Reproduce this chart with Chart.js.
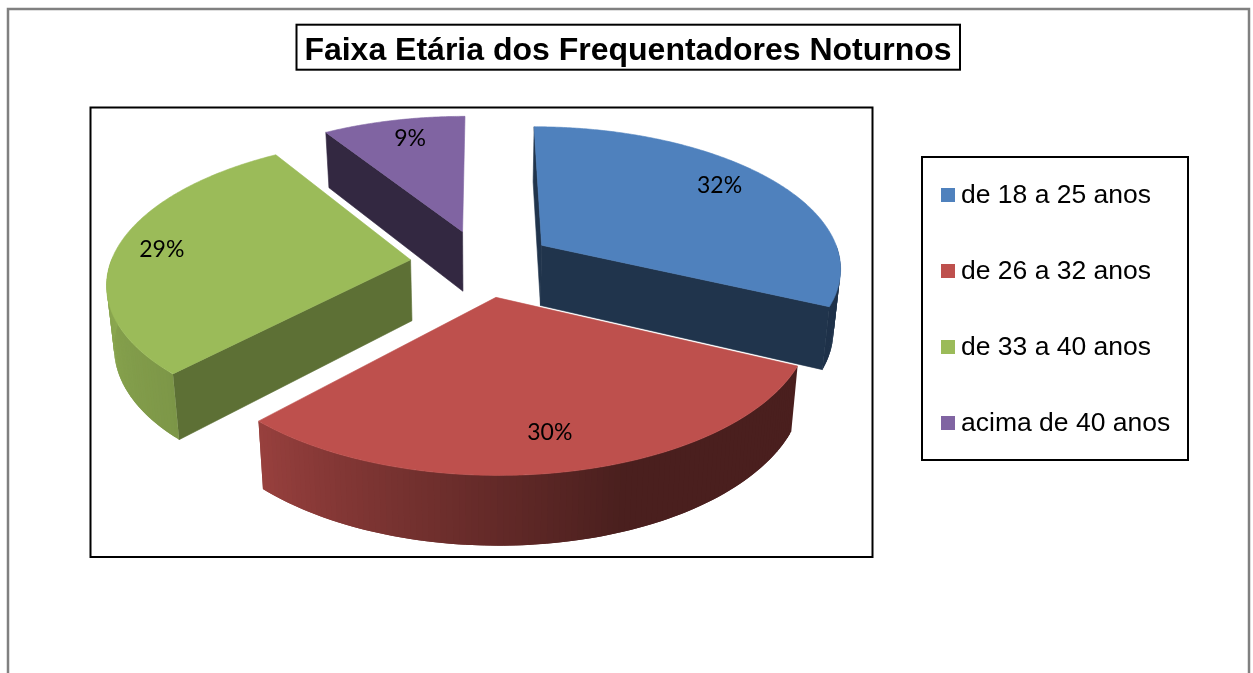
<!DOCTYPE html>
<html>
<head>
<meta charset="utf-8">
<title>Faixa Etária</title>
<script src="https://cdn.jsdelivr.net/npm/chart.js@4"></script>
<style>
html, body { margin: 0; padding: 0; background: #fff; overflow: hidden; }
#wrap { position: relative; width: 1253px; height: 673px; }
#legend {
    position: absolute; left: 921px; top: 156px; width: 264px; height: 301px;
    border: 2px solid #000; list-style: none; margin: 0; padding: 0;
    font: 26.5px "Liberation Sans", Arial, sans-serif; color: #000;
}
#legend li { position: relative; height: 76px; line-height: 74px; padding-left: 38px; white-space: nowrap; }
#legend li:first-child { margin-top: -1px; }
#legend i { position: absolute; left: 18px; top: 31px; width: 14px; height: 14px; }
</style>
</head>
<body>
<div id="wrap">
    <canvas id="charts" width="1253" height="673"></canvas>
    <ul id="legend"></ul>
</div>
<script>
var titulo = 'Faixa Etária dos Frequentadores Noturnos';
var categorias = ['de 18 a 25 anos', 'de 26 a 32 anos', 'de 33 a 40 anos', 'acima de 40 anos'];
var valores = [32, 30, 29, 9];
var cores = ['#4F81BD', '#BE504D', '#9BBB59', '#8064A2'];

// sombra das faces retas de cada fatia
var sombraParede = [0.4, 0.4, 0.6, 0.4];
// ajuste fino dos rotulos em px
var ajusteRotulo = [[-6, -5], [-1, 0], [-14, 0], [4, -2]];

// camera da pizza 3D (medida no desenho)
var CX = 482, CY = 263, RAIO = 300, EXPLODE = 72, ACHATA = 0.469, DIST = 2044, ALTURA = 61, FUNDO = 0.98;

function projeta(px, py, z) {
    var w = 1 / (1 - py / DIST);
    var f = z ? FUNDO : 1;
    return {
        x: CX + px * w * f,
        y: CY + ACHATA * py * w * f + z * ALTURA * w
    };
}

function sombra(hex, k) {
    var n = parseInt(hex.slice(1), 16);
    return 'rgb(' + Math.round((n >> 16) * k) + ',' + Math.round(((n >> 8) & 255) * k) + ',' + Math.round((n & 255) * k) + ')';
}

// luz da lateral curva, conforme o angulo da borda
function luzCurva(graus) {
    if (graus < 70) return 0.39;
    if (graus < 135) return 0.39 + (graus - 70) * (0.81 - 0.39) / 65;
    return Math.min(0.9, 0.81 + (graus - 135) * 0.002);
}

function poligono(ctx, pts, cor, contorno) {
    ctx.beginPath();
    pts.forEach(function(p, i) {
        if (i == 0) ctx.moveTo(p.x, p.y); else ctx.lineTo(p.x, p.y);
    });
    ctx.closePath();
    ctx.fillStyle = cor;
    ctx.fill();
    if (contorno) {
        ctx.strokeStyle = cor;
        ctx.lineWidth = 0.6;
        ctx.stroke();
    }
}

function area(pts) {
    var s = 0;
    for (var i = 0; i < pts.length; i++) {
        var a = pts[i], b = pts[(i + 1) % pts.length];
        s += a.x * b.y - b.x * a.y;
    }
    return s;
}

function fatia(ctx, arc, i) {
    var meio = (arc.startAngle + arc.endAngle) / 2;
    var ox = Math.cos(meio) * EXPLODE, oy = Math.sin(meio) * EXPLODE;
    var cor = arc.options.backgroundColor;

    function borda(a, z) {
        return projeta(ox + Math.cos(a) * RAIO, oy + Math.sin(a) * RAIO, z);
    }
    function centro(z) {
        return projeta(ox, oy, z);
    }

    // faces retas, so as que estao viradas para a camera (e nao sao fio de cabelo)
    [[arc.startAngle, -1], [arc.endAngle, 1]].forEach(function(f) {
        var q = [centro(0), borda(f[0], 0), borda(f[0], 1), centro(1)];
        if (area(q) * f[1] > 400) poligono(ctx, q, sombra(cor, sombraParede[i]), true);
    });

    // lateral curva em faixas de um grau, cada uma cobrindo a emenda da anterior
    var passo = Math.PI / 180;
    for (var a = arc.startAngle; a < arc.endAngle; a += passo) {
        var b = Math.min(a + passo * 2, arc.endAngle);
        var graus = ((a + passo / 2) * 180 / Math.PI + 360) % 360;
        if (graus > 180) continue;
        poligono(ctx, [borda(a, 0), borda(b, 0), borda(b, 1), borda(a, 1)], sombra(cor, luzCurva(graus)), false);
    }

    // tampa
    var topo = [centro(0)];
    for (var t = arc.startAngle; t < arc.endAngle; t += passo / 2) topo.push(borda(t, 0));
    topo.push(borda(arc.endAngle, 0));
    poligono(ctx, topo, cor, true);
}

var pizza3d = {
    id: 'pizza3d',
    beforeDraw: function(chart) {
        var ctx = chart.ctx;
        ctx.save();
        ctx.strokeStyle = '#808080';
        ctx.lineWidth = 2.5;
        ctx.strokeRect(8, 9, 1241, 720);
        ctx.strokeStyle = '#000';
        ctx.lineWidth = 2;
        ctx.strokeRect(90.5, 107.5, 782, 449.5);
        ctx.strokeRect(296.5, 24.7, 663.5, 45);
        ctx.restore();
    },
    beforeDatasetsDraw: function(chart) {
        var ctx = chart.ctx;
        var arcos = chart.getDatasetMeta(0).data;
        ctx.save();
        // de tras para a frente
        var ordem = arcos.map(function(a, i) { return i; }).sort(function(p, q) {
            return Math.sin((arcos[p].startAngle + arcos[p].endAngle) / 2) - Math.sin((arcos[q].startAngle + arcos[q].endAngle) / 2);
        });
        ordem.forEach(function(i) { fatia(ctx, arcos[i], i); });

        ctx.fillStyle = '#000';
        ctx.font = '23px Lato';
        ctx.textAlign = 'center';
        ctx.textBaseline = 'middle';
        arcos.forEach(function(arc, i) {
            var meio = (arc.startAngle + arc.endAngle) / 2;
            var r = EXPLODE + RAIO * 0.8;
            var p = projeta(Math.cos(meio) * r, Math.sin(meio) * r, 0);
            ctx.fillText(valores[i] + '%', p.x + ajusteRotulo[i][0], p.y + ajusteRotulo[i][1]);
        });
        ctx.restore();
        return false;
    }
};

var ctx = document.getElementById('charts');
new Chart(ctx, {
    type: 'pie',
    data: {
        labels: categorias,
        datasets: [{
            data: valores,
            backgroundColor: cores,
            borderWidth: 0
        }]
    },
    options: {
        responsive: false,
        animation: false,
        layout: { padding: { left: 3 } },
        plugins: {
            legend: { display: false },
            tooltip: { enabled: false },
            title: {
                display: true,
                text: titulo,
                color: '#000',
                font: { family: '"Liberation Sans"', size: 32, weight: 'bold', lineHeight: 1.2 },
                padding: { top: 31.5, bottom: 0 }
            }
        }
    },
    plugins: [pizza3d]
});

// legenda em html
var lista = document.getElementById('legend');
categorias.forEach(function(nome, i) {
    var li = document.createElement('li');
    var marca = document.createElement('i');
    marca.style.background = cores[i];
    li.appendChild(marca);
    li.appendChild(document.createTextNode(nome));
    lista.appendChild(li);
});
</script>
</body>
</html>
